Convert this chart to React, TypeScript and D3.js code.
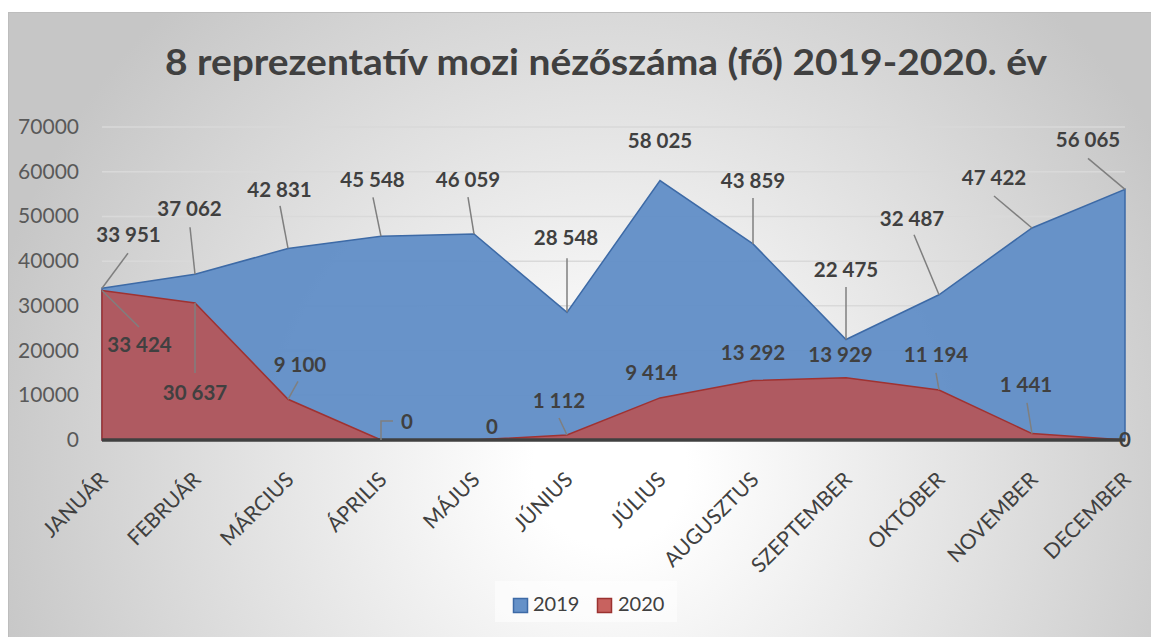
import React from "react";
import * as d3 from "d3";

const months = ["JANUÁR", "FEBRUÁR", "MÁRCIUS", "ÁPRILIS", "MÁJUS", "JÚNIUS", "JÚLIUS", "AUGUSZTUS", "SZEPTEMBER", "OKTÓBER", "NOVEMBER", "DECEMBER"];
const values2019 = [33951, 37062, 42831, 45548, 46059, 28548, 58025, 43859, 22475, 32487, 47422, 56065];
const values2020 = [33424, 30637, 9100, 0, 0, 1112, 9414, 13292, 13929, 11194, 1441, 0];
const yTicks = [0, 10000, 20000, 30000, 40000, 50000, 60000, 70000];
const seriesNames = ["2019", "2020"];
const title = "8 reprezentatív mozi nézőszáma (fő) 2019-2020. év";

// label layout (offsets relative to the point): [dx, dy(baseline), leaderType, ex, ey]
type Lay = [number, number, string, number, number];
const layout2019: Lay[] = [
  [26.5, -46, "line", 26, -35],
  [-5.5, -58, "line", -5, -47],
  [-8.5, -51.5, "line", -8, -42.5],
  [-8.5, -49, "line", -8, -39],
  [-6, -47, "line", -6, -37],
  [-1, -67, "line", 0, -54],
  [0, -32.5, "none", 0, 0],
  [0, -56, "line", 0, -46],
  [0, -62.5, "line", 0, -52.5],
  [-27, -69, "line", -25, -60],
  [-38, -43, "line", -38, -32],
  [-37, -42, "line", -37, -31],
];
const layout2020: Lay[] = [
  [37.5, 61.5, "line", 37, 36.5],
  [0, 97, "line", 0, 70],
  [12, -27, "line", 10, -18],
  [26, -11, "elbow", 12, -19],
  [18, -6, "none", 0, 0],
  [-8, -27, "line", -8, -17],
  [-8.5, -18, "none", 0, 0],
  [0, -20.6, "none", 0, 0],
  [-5.5, -15.7, "none", 0, 0],
  [-3, -28, "line", -3, -17],
  [-6, -41.6, "line", -5, -30.6],
  [0, 7, "none", 0, 0],
];

const W = 1151;
const H = 637;
const FONT = "Lato, 'Open Sans', sans-serif";
const fmt = (v: number) => d3.format(",")(v).replace(/,/g, " ");

export default function App() {
  const x = d3.scalePoint<string>().domain(months).range([102, 1125]);
  const y = d3.scaleLinear().domain([0, 70000]).range([440, 127]);

  const area = d3
    .area<number>()
    .x((_, i) => x(months[i]) as number)
    .y0(y(0))
    .y1((d) => y(d));

  const blue = "#6390c7";
  const blueStroke = "#3d6aa6";
  const red = "#b2585d";
  const redStroke = "#a03231";

  const renderLabels = (vals: number[], lay: Lay[], key: string) =>
    vals.map((v, i) => {
      const px = x(months[i]) as number;
      const py = y(v);
      const [dx, dy, type, ex, ey] = lay[i];
      let leader = null;
      if (type === "line") {
        leader = <line x1={px} y1={py} x2={px + ex} y2={py + ey} stroke="#7f7f7f" strokeWidth={1.5} />;
      } else if (type === "elbow") {
        leader = (
          <polyline
            points={`${px},${py} ${px},${py + ey} ${px + ex},${py + ey}`}
            fill="none"
            stroke="#7f7f7f"
            strokeWidth={1.5}
          />
        );
      }
      return (
        <g key={key + i}>
          {leader}
          <text x={px + dx} y={py + dy} textAnchor="middle" fontFamily={FONT} fontWeight={700} fontSize={20.5} fill="#404040">
            {fmt(v)}
          </text>
        </g>
      );
    });

  return (
    <svg width={W} height={H} style={{ position: "absolute", left: 0, top: 0 }}>
      <defs>
        <radialGradient id="bg" gradientUnits="userSpaceOnUse" cx={610} cy={470} r={640}>
          <stop offset="0" stopColor="#ffffff" />
          <stop offset="0.12" stopColor="#ffffff" />
          <stop offset="1" stopColor="#c6c6c6" />
        </radialGradient>
      </defs>
      <rect x={0} y={0} width={W} height={H} fill="#ffffff" />
      <rect x={8.5} y={12.5} width={1150} height={640} fill="url(#bg)" stroke="#bdbdbd" strokeWidth={1} />

      {yTicks.slice(1).map((t) => (
        <line key={"g" + t} x1={102} x2={1125} y1={y(t)} y2={y(t)} stroke="#d9d9d9" strokeWidth={1.5} />
      ))}

      <path d={area(values2019) || ""} fill={blue} fillOpacity={0.97} stroke={blueStroke} strokeWidth={1.5} />
      <path d={area(values2020) || ""} fill={red} fillOpacity={0.97} stroke={redStroke} strokeWidth={1.5} />

      <line x1={102} x2={1125} y1={y(0)} y2={y(0)} stroke="#404040" strokeWidth={3.5} />

      {yTicks.map((t) => (
        <text key={"t" + t} x={79} y={y(t) + 7} textAnchor="end" fontFamily={FONT} fontSize={21} fill="#595959">
          {t}
        </text>
      ))}

      {months.map((m) => (
        <text
          key={m}
          transform={`translate(${(x(m) as number) + 7},${481}) rotate(-45)`}
          textAnchor="end"
          fontFamily={FONT}
          fontSize={21}
          fill="#404040"
        >
          {m}
        </text>
      ))}

      {renderLabels(values2019, layout2019, "a")}
      {renderLabels(values2020, layout2020, "b")}

      <text
        x={606}
        y={75}
        textAnchor="middle"
        fontFamily={FONT}
        fontWeight={700}
        fontSize={37}
        textLength={882}
        lengthAdjust="spacingAndGlyphs"
        fill="#404040"
      >
        {title}
      </text>

      <rect x={495} y={581} width={182} height={41} fill="#ffffff" fillOpacity={0.55} />
      <rect x={513.5} y={598.5} width={14} height={14} fill="#6591c8" stroke={blueStroke} strokeWidth={1.5} />
      <text x={533} y={611} fontFamily={FONT} fontSize={20} fill="#404040">
        {seriesNames[0]}
      </text>
      <rect x={597.5} y={598.5} width={14} height={14} fill="#c8625f" stroke="#9b3230" strokeWidth={1.5} />
      <text x={618} y={611} fontFamily={FONT} fontSize={20} fill="#404040">
        {seriesNames[1]}
      </text>
    </svg>
  );
}
